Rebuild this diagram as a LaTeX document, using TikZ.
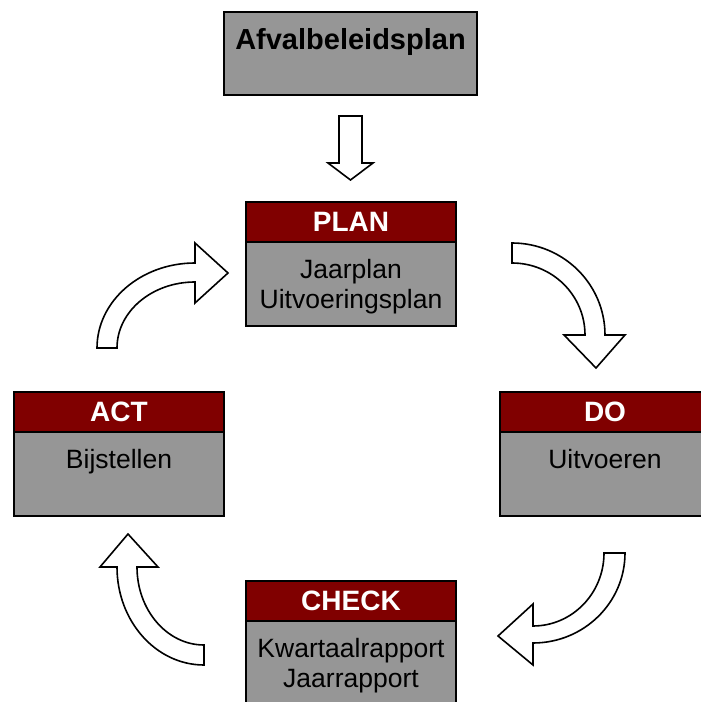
\documentclass[tikz,border=0pt]{standalone}
\usepackage{fontspec}
\setmainfont{Liberation Sans}
\usetikzlibrary{positioning}
\definecolor{donkerrood}{HTML}{800000}
\definecolor{grijs}{HTML}{969696}

\providecommand{\Fase}[4]{
\node[kop,anchor=north west] (#1) at (#2) {#3};
\node[romp,anchor=north] (#1-romp) at (#1.south) {};
\node[inhoud,below=17pt of #1-romp.north] (#1-tekst) {#4};
}

\begin{document}
\begin{tikzpicture}[x=1pt,y=1pt,
  kop/.style={draw=black,line width=2pt,fill=donkerrood,text=white,
    font=\fontsize{28}{30}\selectfont\bfseries,minimum width=210pt,
    minimum height=40pt,inner sep=0pt,outer sep=0pt},
  romp/.style={draw=black,line width=2pt,fill=grijs,minimum width=210pt,
    minimum height=84pt,inner sep=0pt,outer sep=0pt},
  inhoud/.style={align=center,inner sep=0pt,outer sep=0pt,
    font=\fontsize{26.5}{30}\selectfont},
  doel/.style={draw=black,line width=2pt,fill=grijs,minimum width=253pt,
    text height=38pt,text depth=45pt,inner sep=0pt,outer sep=0pt,
    font=\fontsize{29}{32}\selectfont\bfseries},
  pijl/.style={draw=black,line width=1.6pt,fill=white,line join=miter}]
\useasboundingbox (0,0) rectangle (701,702);

\node[doel,anchor=base] (afval) at (350.5,652) {Afvalbeleidsplan};
% pijl naar PLAN
\draw[pijl] (339,586) -- (362,586) -- (362,539) -- (373,539) -- (350.5,522)
  -- (328,539) -- (339,539) -- cycle;

\Fase{plan}{246,500}{PLAN}{Jaarplan\\Uitvoeringsplan}
\Fase{do}{500,310}{DO}{Uitvoeren}
\Fase{check}{246,121}{CHECK}{Kwartaalrapport\\Jaarrapport}
\Fase{act}{14,310}{ACT}{Bijstellen}

% de cirkel
\draw[pijl] (512,459) arc[start angle=90,end angle=0,x radius=93,y radius=92]
  -- (625,367) -- (596,334) -- (564,367) -- (585,367)
  arc[start angle=0,end angle=90,x radius=73,y radius=72] -- cycle;
\draw[pijl] (625,149) arc[start angle=0,end angle=-90,x radius=92,y radius=90]
  -- (533,37) -- (498,66) -- (533,98) -- (533,76)
  arc[start angle=-90,end angle=0,x radius=71,y radius=73] -- cycle;
\draw[pijl] (204,37) arc[start angle=270,end angle=180,x radius=87,y radius=98]
  -- (100,135) -- (128,168) -- (158,135) -- (137,135)
  arc[start angle=180,end angle=270,x radius=67,y radius=78] -- cycle;
\draw[pijl] (97,354) arc[start angle=180,end angle=90,x radius=98,y radius=85]
  -- (195,459) -- (228,429) -- (195,399) -- (195,420)
  arc[start angle=90,end angle=180,x radius=78,y radius=66] -- cycle;
\end{tikzpicture}
\end{document}
